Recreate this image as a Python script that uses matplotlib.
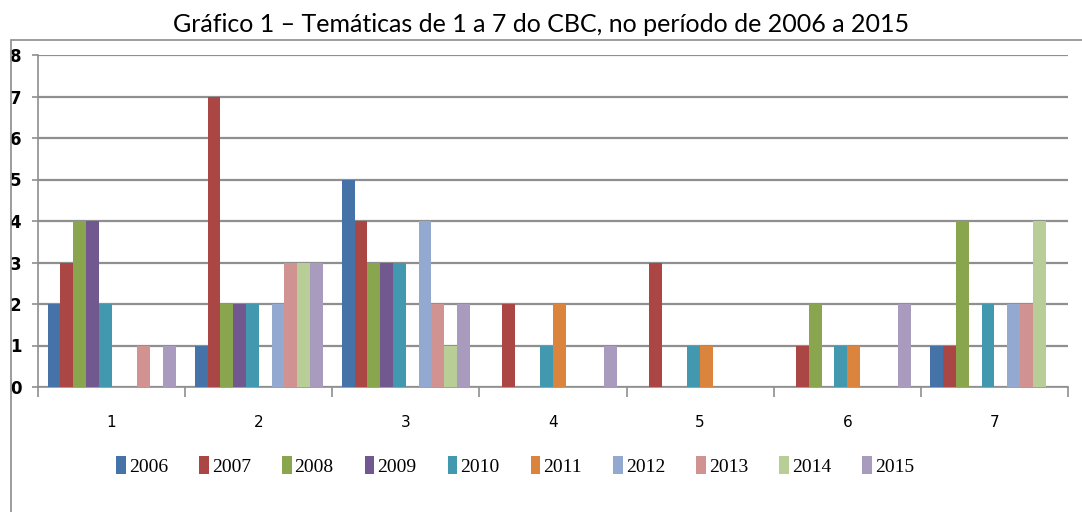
import matplotlib
matplotlib.use("Agg")
import matplotlib.pyplot as plt
import numpy as np
from matplotlib.patches import Rectangle, Patch

categories = ["1", "2", "3", "4", "5", "6", "7"]
years = ["2006", "2007", "2008", "2009", "2010", "2011", "2012", "2013", "2014", "2015"]
v2006 = [2, 1, 5, 0, 0, 0, 1]
v2007 = [3, 7, 4, 2, 3, 1, 1]
v2008 = [4, 2, 3, 0, 0, 2, 4]
v2009 = [4, 2, 3, 0, 0, 0, 0]
v2010 = [2, 2, 3, 1, 1, 1, 2]
v2011 = [0, 0, 0, 2, 1, 1, 0]
v2012 = [0, 2, 4, 0, 0, 0, 2]
v2013 = [1, 3, 2, 0, 0, 0, 2]
v2014 = [0, 3, 1, 0, 0, 0, 4]
v2015 = [1, 3, 2, 1, 0, 2, 0]
series = [v2006, v2007, v2008, v2009, v2010, v2011, v2012, v2013, v2014, v2015]
colors = ["#4572A7", "#AA4643", "#89A54E", "#71588F", "#4198AF",
          "#DB843D", "#93A9CF", "#D19392", "#B9CD96", "#A99BBD"]

W, H = 1082, 512
fig = plt.figure(figsize=(W / 100, H / 100), dpi=100)
fig.patch.set_facecolor("white")

# outer chart border
fig.add_artist(Rectangle((11 / W, -0.1), 1.2, (H - 40) / H + 0.1, transform=fig.transFigure,
                         fill=False, edgecolor="#8c8c8c", linewidth=1.2))

fig.text(541 / W, 1 - 24 / H, "Gráfico 1 – Temáticas de 1 a 7 do CBC, no período de 2006 a 2015",
         ha="center", va="center", fontsize=18, family="Lato", color="#000000")

ax = fig.add_axes([38 / W, 1 - 387 / H, (1068 - 38) / W, (387 - 55) / H])
x = np.arange(len(categories))
bw = 0.087
n = len(series)
for i, (vals, c, y) in enumerate(zip(series, colors, years)):
    ax.bar(x + (i - (n - 1) / 2) * bw, vals, width=bw, color=c, label=y, zorder=3, linewidth=0)

ax.set_xlim(-0.5, 6.5)
ax.set_ylim(0, 8)
ax.set_yticks(range(0, 9))
ax.yaxis.grid(True, color="#8f8f8f", linewidth=1.6, zorder=0)
ax.set_axisbelow(True)
for s in ["top", "right"]:
    ax.spines[s].set_visible(False)
for s in ["left", "bottom"]:
    ax.spines[s].set_color("#8f8f8f")
    ax.spines[s].set_linewidth(1.2)

ax.set_xticks(x)
ax.set_xticklabels(categories, fontsize=11, family="DejaVu Sans")
ax.set_xticks(np.arange(-0.5, 7.0, 1.0), minor=True)
ax.tick_params(axis="x", which="major", length=0, pad=20)
ax.tick_params(axis="x", which="minor", length=7, color="#8f8f8f", width=1.2)
ax.tick_params(axis="y", length=4, color="#8f8f8f", width=1.2, pad=8, labelsize=12)
for lbl in ax.get_yticklabels():
    lbl.set_family("DejaVu Sans")
    lbl.set_fontweight("semibold")

handles = [Patch(facecolor=c, edgecolor="none") for c in colors]
fig.legend(handles, years, loc="center", bbox_to_anchor=(515 / W, 1 - 466 / H), ncol=10,
           frameon=False, handlelength=0.5, handleheight=1.0, handletextpad=0.15,
           columnspacing=1.6, prop={"family": "Liberation Serif", "size": 14})

fig.savefig("out.png", dpi=100)
